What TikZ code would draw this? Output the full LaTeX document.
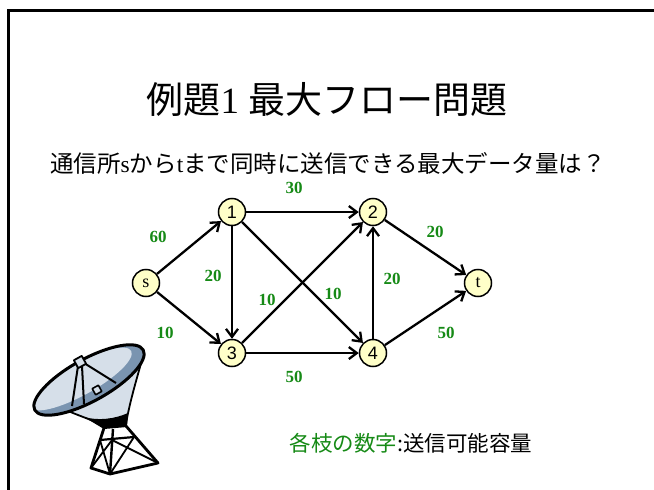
\documentclass[tikz,border=0pt]{standalone}
\usepackage{fontspec}
\setmainfont{Liberation Serif}
\newfontfamily\jpfont{Noto Sans CJK JP}
\newfontfamily\digitfont{Liberation Sans}
\usetikzlibrary{arrows.meta,positioning,calc}
\definecolor{capgreen}{RGB}{22,138,22}
\definecolor{stationfill}{RGB}{255,255,200}
\definecolor{dishlight}{RGB}{214,223,233}
\definecolor{dishdark}{RGB}{122,148,176}

\begin{document}
\begin{tikzpicture}[x=1pt, y=-1pt,
  station/.style={circle, draw=black, line width=1.5pt, fill=stationfill, minimum size=27pt, inner sep=0pt, font=\digitfont\fontsize{18}{18}\selectfont},
  terminal/.style={station, font=\fontsize{18}{18}\selectfont},
  edgearrow/.style={-{Straight Barb[length=8pt, width=12pt]}, line width=2.3pt, draw=black},
  caplabel/.style={text=capgreen, inner sep=0pt, font=\fontsize{17}{17}\selectfont\bfseries}]
  \useasboundingbox (0,0) rectangle (654,490);
  \draw[line width=3pt] (8,490) -- (8,10) -- (654,10);

  \node (title) at (327,100) {\fontsize{37}{37}\selectfont{\jpfont 例題}1 {\jpfont 最大フロー問題}};
  \node (question) at (328,163) {\fontsize{23.5}{23.5}\selectfont{\jpfont 通信所}s{\jpfont から}t{\jpfont まで同時に送信できる最大データ量は？}};

  % network
  \node[terminal] (s) at (146,283) {s};
  \node[station] (n1) at (232,212) {1};
  \node[station] (n2) at (373,212) {2};
  \node[station] (n3) at (232,353) {3};
  \node[station] (n4) at (373,353) {4};
  \node[terminal] (t) at (478,283) {t};

  \draw[edgearrow] (s) -- (n1);
  \draw[edgearrow] (s) -- (n3);
  \draw[edgearrow] (n1) -- (n2);
  \draw[edgearrow] (n1) -- (n3);
  \draw[edgearrow] (n1) -- (n4);
  \draw[edgearrow] (n3) -- (n2);
  \draw[edgearrow] (n3) -- (n4);
  \draw[edgearrow] (n4) -- (n2);
  \draw[edgearrow] (n2) -- (t);
  \draw[edgearrow] (n4) -- (t);

  \node[caplabel] (c-s1) at (158,237) {60};
  \node[caplabel] (c-s3) at (165,333) {10};
  \node[caplabel] (c-12) at (294,188) {30};
  \node[caplabel] (c-13) at (213,276) {20};
  \node[caplabel] (c-14) at (333,294) {10};
  \node[caplabel] (c-32) at (267,300) {10};
  \node[caplabel] (c-34) at (294,377) {50};
  \node[caplabel] (c-42) at (392,279) {20};
  \node[caplabel] (c-2t) at (435,232) {20};
  \node[caplabel] (c-4t) at (446,333) {50};

  \node (legend) at (411,443) {\jpfont\fontsize{21.5}{21.5}\selectfont{\color{capgreen}各枝の数字}:送信可能容量};

  % parabolic antenna
  \begin{scope}[line join=round]
    \fill[dishlight, draw=black, line width=1.8pt] (68,411) .. controls (85,418) and (95,421) .. (104,426) -- (126,424) .. controls (130,400) and (138,375) .. (143,356) -- cycle;
    \fill[black] (84,417) .. controls (94,423) .. (104,429) -- (127,427) -- (128,413) .. controls (115,419) and (98,421) .. (84,417) -- cycle;
    \begin{scope}
      \clip[rotate around={29:(89,380)}] (89,380) ellipse (62 and 21);
      \fill[dishdark, rotate around={29:(89,380)}] (89,380) ellipse (62 and 21);
      \fill[dishlight, rotate around={29:(89,380)}] (82,375) ellipse (58 and 16);
    \end{scope}
    \draw[line width=3pt, rotate around={29:(89,380)}] (89,380) ellipse (62 and 21);
    \draw[line width=2pt] (78,366) -- (72,406) (82,366) -- (84,404) (84,363) -- (116,383);
    \draw[line width=1.8pt, fill=dishlight, rotate around={29:(80,362)}] (75.5,357.5) rectangle (84.5,366.5);
    \draw[line width=1.6pt, fill=dishlight, rotate around={29:(97,390)}] (93.5,386.5) rectangle (100.5,393.5);
    % tower
    \draw[line width=2.8pt] (104,428) -- (91,468) -- (110,474) -- (158,463) -- (126,426);
    \draw[line width=2.4pt] (113,429) -- (110,474);
    \draw[line width=2.2pt] (100,440) -- (134,437);
    \draw[line width=1.8pt] (100,440) -- (110,474) (112,440) -- (91,468)
      (112,440) -- (158,463) (134,437) -- (110,474);
  \end{scope}
\end{tikzpicture}
\end{document}
